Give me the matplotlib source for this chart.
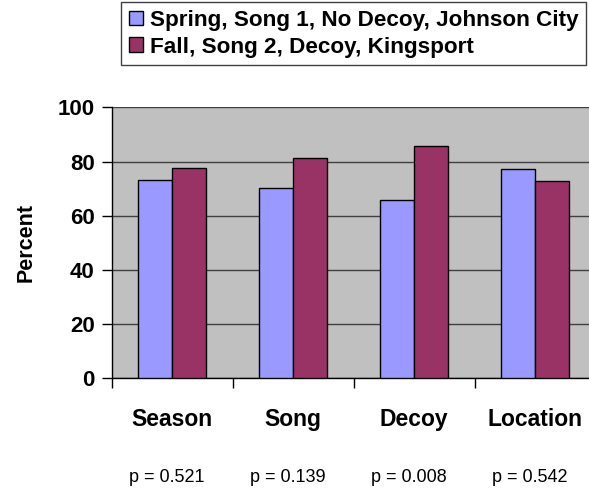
import numpy as np
import matplotlib
matplotlib.use("Agg")
from matplotlib import pyplot as plt
from matplotlib.transforms import blended_transform_factory

categories = ["Season", "Song", "Decoy", "Location"]
pvals = ["p = 0.521", "p = 0.139", "p = 0.008", "p = 0.542"]
spring = [73.2, 70.2, 65.7, 77.3]
fall = [77.7, 81.4, 85.6, 72.9]
series_names = ["Spring, Song 1, No Decoy, Johnson City", "Fall, Song 2, Decoy, Kingsport"]

plt.rcParams['font.family'] = ['Liberation Sans', 'DejaVu Sans']

fig = plt.figure(figsize=(5.89, 4.93), dpi=100)
ax = fig.add_axes([111.5/589, (493-378.3)/493, 484/589, 271/493])
ax.set_facecolor("#c0c0c0")

x = np.arange(len(categories))
w = 0.285
b1 = ax.bar(x - w/2, spring, w, color="#9999ff", edgecolor="black", linewidth=1, zorder=3)
b2 = ax.bar(x + w/2, fall, w, color="#993366", edgecolor="black", linewidth=1, zorder=3)

ax.set_xlim(-0.5, 3.5)
ax.set_ylim(0, 100)
ax.set_yticks([0, 20, 40, 60, 80, 100])
ax.set_yticklabels(["0", "20", "40", "60", "80", "100"], fontsize=16, fontweight="bold")
ax.set_xticks([-0.5, 0.5, 1.5, 2.5, 3.5])
ax.set_xticklabels([])
ax.tick_params(axis="both", direction="out", length=7, width=1, color="black", pad=5)
ax.yaxis.grid(True, color="#404040", linewidth=1, zorder=0)
ax.set_axisbelow(True)
for s in ["top", "right"]:
    ax.spines[s].set_visible(False)
ax.spines["left"].set_linewidth(1)
ax.spines["bottom"].set_linewidth(1)

ax.set_ylabel("Percent", fontsize=15.5, fontweight="bold", labelpad=15)

tr = blended_transform_factory(ax.transData, fig.transFigure)
for i, c in enumerate(categories):
    ax.text(i, 1 - 417/493, c, transform=tr, ha="center", va="center_baseline",
            fontsize=16.5, fontweight="bold")
    ax.text(i - 0.04, 1 - 476/493, pvals[i], transform=tr, ha="center", va="center_baseline",
            fontsize=13)

leg = fig.legend([b1, b2], series_names, loc="upper right",
                 bbox_to_anchor=(586/589, 1 - 2/493), frameon=True, fancybox=False,
                 edgecolor="#404040", framealpha=1, handlelength=0.6, handleheight=0.6,
                 handletextpad=0.3, borderpad=0.35, labelspacing=0.25, borderaxespad=0,
                 prop={"size": 16.2, "weight": "bold"})
leg.get_frame().set_linewidth(1)

fig.savefig("out.png", dpi=100)
